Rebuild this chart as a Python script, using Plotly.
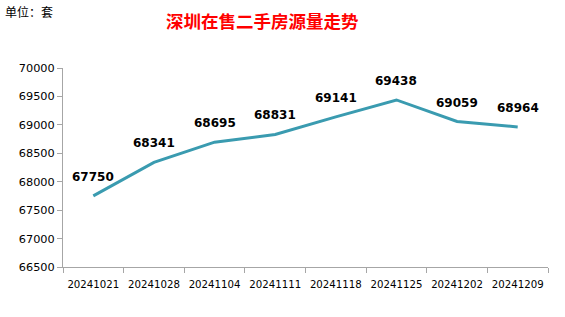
import plotly.graph_objects as go

dates = ["20241021", "20241028", "20241104", "20241111", "20241118", "20241125", "20241202", "20241209"]
listings = [67750, 68341, 68695, 68831, 69141, 69438, 69059, 68964]

L, R, T, B = 63, 17, 68, 50
W, H = 565, 317
pw, ph = W - L - R, H - T - B

fig = go.Figure()
fig.add_trace(go.Scatter(
    x=dates, y=listings, mode="lines",
    line=dict(color="#3A9BB0", width=3),
    cliponaxis=False, hoverinfo="skip",
))

anns = [
    dict(text="深圳在售二手房源量走势", xref="paper", yref="paper",
         x=(262 - L) / pw, y=(H - B - 20) / ph, xanchor="center", yanchor="middle",
         showarrow=False, font=dict(family="Noto Sans CJK SC", size=17.5, color="#FF0000", weight="bold")),
    dict(text="单位：套", xref="paper", yref="paper",
         x=(3 - L) / pw, y=(H - B - 12) / ph, xanchor="left", yanchor="middle",
         showarrow=False, font=dict(family="Noto Sans CJK SC", size=12, color="#000000")),
]
for i, v in enumerate(listings):
    anns.append(dict(x=i, y=v, xref="x", yref="y", text=str(v), showarrow=False,
                     yshift=19, xanchor="center", yanchor="middle",
                     font=dict(family="DejaVu Sans", size=12, color="#000000", weight="bold")))

fig.update_layout(
    width=W, height=H,
    margin=dict(l=L, r=R, t=T, b=B),
    paper_bgcolor="white", plot_bgcolor="white",
    showlegend=False,
    font=dict(family="DejaVu Sans", size=10.5, color="#000000"),
    annotations=anns,
)

fig.update_xaxes(type="category", range=[-0.5, 7.5], tickson="boundaries",
                 ticks="outside", ticklen=5, tickcolor="#A6A6A6", tickangle=0,
                 ticklabelstandoff=8,
                 showline=True, linecolor="#A6A6A6", linewidth=1, showgrid=False,
                 tickfont=dict(size=10.2))
fig.update_yaxes(range=[66500, 70000], dtick=500, ticks="outside", ticklen=5,
                 tickcolor="#A6A6A6", showline=True, linecolor="#A6A6A6", linewidth=1,
                 showgrid=False, zeroline=False, tickformat="d", tickfont=dict(size=11.3))

fig.write_html("out.html")
